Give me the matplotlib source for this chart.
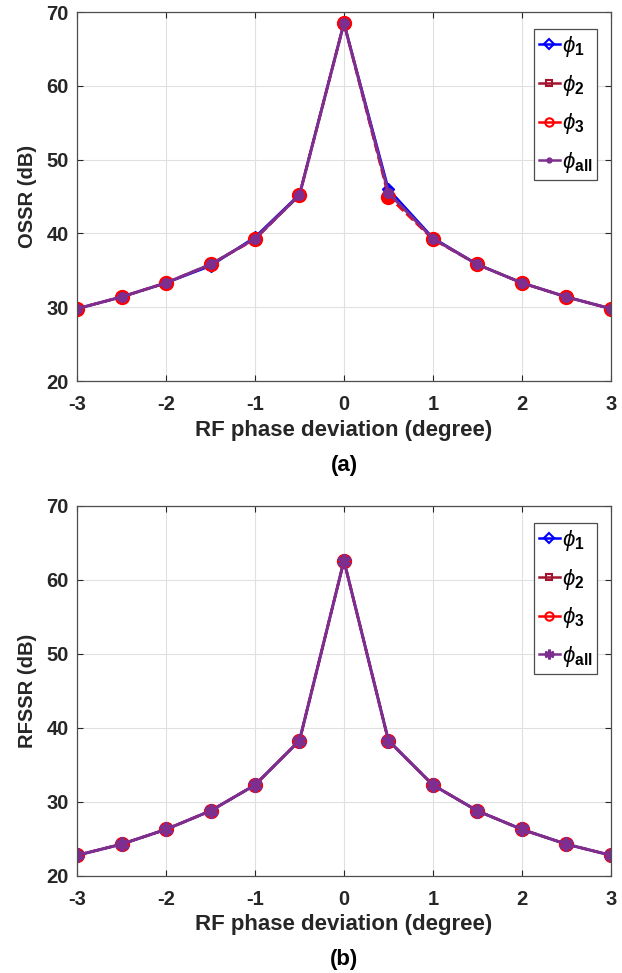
import matplotlib
matplotlib.use("Agg")
import matplotlib.pyplot as plt
from matplotlib.lines import Line2D

plt.rcParams['font.family'] = ['Liberation Sans', 'DejaVu Sans']
plt.rcParams['mathtext.fontset'] = 'custom'
plt.rcParams['mathtext.it'] = 'Liberation Sans:italic'
plt.rcParams['mathtext.bf'] = 'Liberation Sans:bold'
plt.rcParams['mathtext.rm'] = 'Liberation Sans'

# RF phase deviation in degrees
deviation = [-3, -2.5, -2, -1.5, -1, -0.5, 0, 0.5, 1, 1.5, 2, 2.5, 3]

# OSSR (dB) for each phase perturbed
ossr_phi1 = [29.8, 31.4, 33.3, 35.6, 39.5, 45.3, 68.5, 46.0, 39.4, 35.8, 33.3, 31.4, 29.8]
ossr_phi2 = [29.8, 31.4, 33.3, 35.8, 39.3, 45.2, 68.5, 45.3, 39.3, 35.8, 33.3, 31.4, 29.8]
ossr_phi3 = [29.8, 31.4, 33.3, 35.8, 39.2, 45.2, 68.5, 45.0, 39.2, 35.8, 33.3, 31.4, 29.8]
ossr_all = [29.8, 31.4, 33.3, 35.8, 39.3, 45.2, 68.5, 45.5, 39.3, 35.8, 33.3, 31.4, 29.8]

# RFSSR (dB)
rfssr_phi1 = [22.8, 24.3, 26.3, 28.8, 32.3, 38.3, 62.6, 38.3, 32.3, 28.8, 26.3, 24.3, 22.8]
rfssr_phi2 = [22.8, 24.3, 26.3, 28.8, 32.3, 38.3, 62.6, 38.3, 32.3, 28.8, 26.3, 24.3, 22.8]
rfssr_phi3 = [22.8, 24.3, 26.3, 28.8, 32.3, 38.3, 62.6, 38.3, 32.3, 28.8, 26.3, 24.3, 22.8]
rfssr_all = [22.8, 24.3, 26.3, 28.8, 32.3, 38.3, 62.6, 38.3, 32.3, 28.8, 26.3, 24.3, 22.8]

labels = [r'$\phi_{\mathbf{1}}$', r'$\phi_{\mathbf{2}}$', r'$\phi_{\mathbf{3}}$', r'$\phi_{\mathbf{all}}$']

BLUE = (0.0, 0.0, 1.0)
DARKRED = (0.64, 0.08, 0.18)
RED = (1.0, 0.0, 0.0)
PURPLE = (0.49, 0.18, 0.56)
TEXT = (0.15, 0.15, 0.15)
ASTERISK = (6, 2, 0)


def draw_panel(ax, series, all_marker, ylabel, caption):
    s1, s2, s3, sa = series
    ax.plot(deviation, s1, '-', color=BLUE, marker='D', ms=6, mfc=BLUE, mec=BLUE, lw=1.8)
    ax.plot(deviation, s2, '--', color=DARKRED, marker='s', ms=6, mfc=DARKRED, mec=DARKRED, lw=1.8)
    ax.plot(deviation, s3, '--', color=RED, marker='o', ms=10, mfc=RED, mec=RED, lw=1.8)
    if all_marker == 'asterisk':
        ax.plot(deviation, sa, '-', color=PURPLE, marker=ASTERISK, ms=10, mfc=PURPLE, mec=PURPLE, mew=3, lw=2.2)
    else:
        ax.plot(deviation, sa, '-', color=PURPLE, marker='o', ms=7, mfc=PURPLE, mec=PURPLE, lw=2.2)

    ax.set_xlim(-3, 3)
    ax.set_ylim(20, 70)
    ax.set_xticks(range(-3, 4))
    ax.set_yticks(range(20, 71, 10))
    ax.set_xticklabels([str(v) for v in range(-3, 4)])
    ax.grid(True, color=(0.88, 0.88, 0.88), lw=0.8)
    ax.set_axisbelow(True)
    ax.tick_params(direction='in', length=4, width=0.8, colors=TEXT, labelsize=14.5,
                   top=True, right=True)
    ax.tick_params(axis='x', pad=10)
    ax.tick_params(axis='y', pad=6)
    for lab in ax.get_xticklabels() + ax.get_yticklabels():
        lab.set_fontweight('bold')
    for sp in ax.spines.values():
        sp.set_color((0.3, 0.3, 0.3))
        sp.set_linewidth(0.9)
    h = ax.get_position().height * 973
    ax.set_xlabel('RF phase deviation (degree)', fontsize=16, fontweight='bold', color=TEXT)
    ax.xaxis.label.set_va('center')
    ax.xaxis.set_label_coords(0.5, -49 / h)
    ax.set_ylabel(ylabel, fontsize=14.5, fontweight='bold', color=TEXT)
    ax.yaxis.label.set_va('center')
    ax.yaxis.set_label_coords(-0.093, 0.5)
    ax.text(0.5, -84 / h, caption, transform=ax.transAxes, ha='center', va='center',
            fontsize=16, fontweight='bold', color='black')

    # legend keys show open markers
    if all_marker == 'asterisk':
        all_key = Line2D([], [], color=PURPLE, marker=ASTERISK, ms=7, mec=PURPLE, mew=2, lw=1.8)
    else:
        all_key = Line2D([], [], color=PURPLE, marker='.', ms=7, mfc=PURPLE, mec=PURPLE, lw=1.8)
    handles = [
        Line2D([], [], color=BLUE, marker='D', ms=5, mfc='none', mec=BLUE, mew=1.5, lw=1.8),
        Line2D([], [], color=DARKRED, marker='s', ms=5, mfc='none', mec=DARKRED, mew=1.5, lw=1.8),
        Line2D([], [], color=RED, marker='o', ms=6, mfc='none', mec=RED, mew=1.5, lw=1.8),
        all_key,
    ]
    leg = ax.legend(handles, labels, loc='upper right', bbox_to_anchor=(0.974, 0.953),
                    fontsize=16, handlelength=0.95, handletextpad=0.1, borderpad=0.2,
                    labelspacing=0.62, fancybox=False, framealpha=1, borderaxespad=0)
    leg.get_frame().set_edgecolor((0.3, 0.3, 0.3))
    leg.get_frame().set_linewidth(0.9)


fig = plt.figure(figsize=(6.22, 9.73), dpi=100)
ax1 = fig.add_axes([0.124, 0.6084, 0.858, 0.3792])
ax2 = fig.add_axes([0.124, 0.0997, 0.858, 0.3803])

draw_panel(ax1, (ossr_phi1, ossr_phi2, ossr_phi3, ossr_all), 'dot', 'OSSR (dB)', '(a)')
draw_panel(ax2, (rfssr_phi1, rfssr_phi2, rfssr_phi3, rfssr_all), 'asterisk', 'RFSSR (dB)', '(b)')

fig.savefig('out.png', dpi=100)
